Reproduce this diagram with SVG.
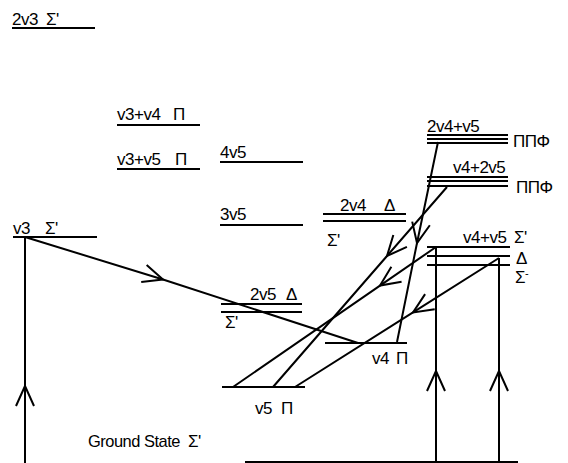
<svg xmlns="http://www.w3.org/2000/svg" width="568" height="463" viewBox="0 0 568 463">
<style>
text{font-family:"Liberation Sans",Arial,sans-serif;font-size:17px;letter-spacing:-0.5px;fill:#000}
.lv{stroke:#000;stroke-width:2;fill:none}
.cn{stroke:#000;stroke-width:2;fill:none;marker-mid:url(#chev)}
</style>
<defs>
<marker id="chev" markerUnits="userSpaceOnUse" markerWidth="24" markerHeight="24" refX="20" refY="9" orient="auto" overflow="visible">
<path d="M0,0 L20,9 L0,18" fill="none" stroke="#000" stroke-width="2"/>
</marker>
</defs>
<rect width="568" height="463" fill="#fff"/>
<g id="lvl-2v3"><text x="12" y="25">2v3</text><text x="46" y="25">Σ'</text><line class="lv" x1="12" y1="28" x2="95" y2="28"/></g>
<g id="lvl-v3v4"><text x="117" y="120">v3+v4</text><text x="173" y="120">Π</text><line class="lv" x1="117" y1="125" x2="200" y2="125"/></g>
<g id="lvl-v3v5"><text x="117" y="165">v3+v5</text><text x="175" y="165">Π</text><line class="lv" x1="117" y1="169" x2="200" y2="169"/></g>
<g id="lvl-4v5"><text x="220" y="158">4v5</text><line class="lv" x1="220" y1="162" x2="303" y2="162"/></g>
<g id="lvl-3v5"><text x="220" y="220">3v5</text><line class="lv" x1="220" y1="225" x2="303" y2="225"/></g>
<g id="lvl-2v4"><text x="340" y="211">2v4</text><text x="384" y="211">Δ</text><line class="lv" x1="323" y1="214" x2="406" y2="214"/><line class="lv" x1="323" y1="221" x2="406" y2="221"/><text x="327" y="246">Σ'</text></g>
<g id="lvl-2v4v5"><text x="427" y="132">2v4+v5</text><line class="lv" x1="427" y1="135" x2="508" y2="135"/><line class="lv" x1="427" y1="139" x2="508" y2="139"/><line class="lv" x1="427" y1="143" x2="508" y2="143"/><text x="513" y="147">ΠΠΦ</text></g>
<g id="lvl-v42v5"><text x="453" y="173">v4+2v5</text><line class="lv" x1="427" y1="177" x2="508" y2="177"/><line class="lv" x1="427" y1="181" x2="508" y2="181"/><line class="lv" x1="427" y1="186" x2="508" y2="186"/><text x="516" y="193">ΠΠΦ</text></g>
<g id="lvl-v4v5"><text x="463" y="243">v4+v5</text><text x="514" y="243">Σ'</text><line class="lv" x1="427" y1="247" x2="510" y2="247"/><line class="lv" x1="427" y1="256" x2="510" y2="256"/><line class="lv" x1="427" y1="265" x2="510" y2="265"/><text x="516" y="264">Δ</text><text x="515" y="283">Σ<tspan dy="-6" font-size="11">-</tspan></text></g>
<g id="lvl-v3"><text x="13" y="234">v3</text><text x="45" y="234">Σ'</text><line class="lv" x1="13" y1="237" x2="97" y2="237"/></g>
<g id="lvl-2v5"><text x="250" y="300">2v5</text><text x="286" y="300">Δ</text><line class="lv" x1="221" y1="304" x2="302" y2="304"/><line class="lv" x1="221" y1="312" x2="302" y2="312"/><text x="225" y="328">Σ'</text></g>
<g id="lvl-v4"><line class="lv" x1="325" y1="343" x2="407" y2="343"/><text x="372" y="364">v4</text><text x="396" y="364">Π</text></g>
<g id="lvl-v5"><line class="lv" x1="222" y1="387" x2="305" y2="387"/><text x="255" y="414">v5</text><text x="281" y="414">Π</text></g>
<g id="lvl-ground"><text x="88" y="447" textLength="92" lengthAdjust="spacingAndGlyphs">Ground State</text><text x="188" y="447">Σ'</text><line class="lv" x1="245" y1="462" x2="518" y2="462"/></g>
<g id="connectors">
<path class="cn" d="M25,463 L25,386 L25,237"/>
<path class="cn" d="M25,237 L163,279.5 L358,343"/>
<path class="cn" d="M436,463 L436,371 L436,247"/>
<path class="cn" d="M499,463 L499,371 L499,258"/>
<path class="cn" d="M436,247 L380,285.6 L233,387"/>
<path class="cn" d="M447,187 L387,256 L273,387"/>
<path class="cn" d="M499,258 L413,312.4 L295,387"/>
<path class="cn" d="M438,142 L417,243 L397,342"/>
</g>
</svg>
